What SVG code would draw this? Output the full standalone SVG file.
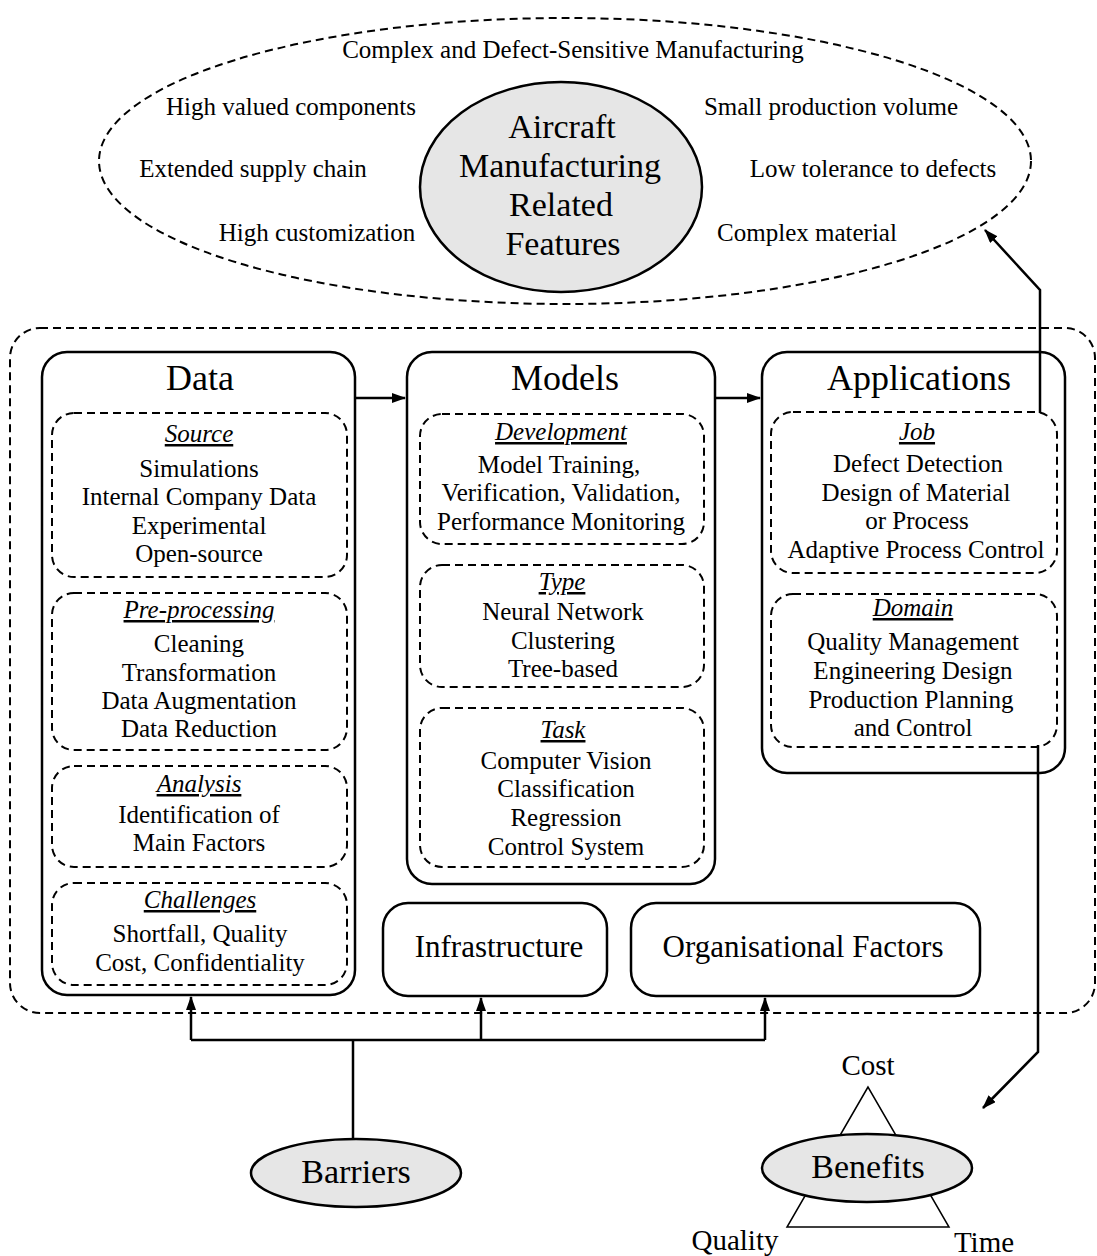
<svg xmlns="http://www.w3.org/2000/svg" width="1097" height="1256" viewBox="0 0 1097 1256">
<defs>
<style>
text{font-family:"Liberation Serif","Times New Roman",serif;fill:#000;text-anchor:middle}
.t{font-size:25px}
.h{font-size:25px;font-style:italic;text-decoration:underline}
.big{font-size:36px}
.c{font-size:34px}
.mid{font-size:31px}
.sm{font-size:29px}
.dash{fill:none;stroke:#000;stroke-width:2;stroke-dasharray:8 5}
.box{fill:#fff;stroke:#000;stroke-width:2.5}
.grey{fill:#e6e6e6;stroke:#000;stroke-width:2.5}
.ln{fill:none;stroke:#000;stroke-width:2.5}
</style>
<marker id="ah" viewBox="0 0 14 10" refX="13" refY="5" markerWidth="14" markerHeight="10" markerUnits="userSpaceOnUse" orient="auto"><path d="M0,0 L14,5 L0,10 z" fill="#000"/></marker>
</defs>
<rect width="1097" height="1256" fill="#fff"/>

<g id="features">
<ellipse class="dash" cx="565" cy="161" rx="466" ry="143"/>
<text class="t" x="573" y="58">Complex and Defect-Sensitive Manufacturing</text>
<text class="t" x="291" y="115">High valued components</text>
<text class="t" x="831" y="115">Small production volume</text>
<text class="t" x="253" y="177">Extended supply chain</text>
<text class="t" x="873" y="177">Low tolerance to defects</text>
<text class="t" x="317" y="241">High customization</text>
<text class="t" x="807" y="241">Complex material</text>
<ellipse class="grey" cx="561" cy="187" rx="141" ry="105"/>
<text class="c" x="562" y="138">Aircraft</text>
<text class="c" x="560" y="177">Manufacturing</text>
<text class="c" x="561" y="216">Related</text>
<text class="c" x="563" y="255">Features</text>
</g>

<g id="system">
<rect class="dash" x="10" y="328" width="1085" height="685" rx="30"/>
</g>

<g id="data">
<rect class="box" x="42" y="352" width="313" height="643" rx="25"/>
<text class="big" x="200" y="390">Data</text>
<rect class="dash" x="52" y="413" width="295" height="164" rx="22"/>
<text class="h" x="199" y="442">Source</text>
<text class="t" x="199" y="477">Simulations</text>
<text class="t" x="199" y="505">Internal Company Data</text>
<text class="t" x="199" y="534">Experimental</text>
<text class="t" x="199" y="562">Open-source</text>
<rect class="dash" x="52" y="593" width="295" height="157" rx="22"/>
<text class="h" x="199" y="618">Pre-processing</text>
<text class="t" x="199" y="652">Cleaning</text>
<text class="t" x="199" y="681">Transformation</text>
<text class="t" x="199" y="709">Data Augmentation</text>
<text class="t" x="199" y="737">Data Reduction</text>
<rect class="dash" x="52" y="766" width="295" height="101" rx="22"/>
<text class="h" x="199" y="792">Analysis</text>
<text class="t" x="199" y="823">Identification of</text>
<text class="t" x="199" y="851">Main Factors</text>
<rect class="dash" x="52" y="883" width="295" height="102" rx="22"/>
<text class="h" x="200" y="908">Challenges</text>
<text class="t" x="200" y="942">Shortfall, Quality</text>
<text class="t" x="200" y="971">Cost, Confidentiality</text>
</g>

<g id="models">
<rect class="box" x="407" y="352" width="308" height="532" rx="25"/>
<text class="big" x="565" y="390">Models</text>
<rect class="dash" x="420" y="414" width="284" height="130" rx="22"/>
<text class="h" x="561" y="440">Development</text>
<text class="t" x="559" y="473">Model Training,</text>
<text class="t" x="561" y="501">Verification, Validation,</text>
<text class="t" x="561" y="530">Performance Monitoring</text>
<rect class="dash" x="420" y="565" width="284" height="122" rx="22"/>
<text class="h" x="562" y="590">Type</text>
<text class="t" x="563" y="620">Neural Network</text>
<text class="t" x="563" y="649">Clustering</text>
<text class="t" x="563" y="677">Tree-based</text>
<rect class="dash" x="420" y="708" width="284" height="159" rx="22"/>
<text class="h" x="563" y="738">Task</text>
<text class="t" x="566" y="769">Computer Vision</text>
<text class="t" x="566" y="797">Classification</text>
<text class="t" x="566" y="826">Regression</text>
<text class="t" x="566" y="855">Control System</text>
</g>

<g id="applications">
<rect class="box" x="762" y="352" width="303" height="421" rx="25"/>
<text class="big" x="919" y="390">Applications</text>
<rect class="dash" x="771" y="412" width="286" height="161" rx="22"/>
<text class="h" x="917" y="440">Job</text>
<text class="t" x="918" y="472">Defect Detection</text>
<text class="t" x="916" y="501">Design of Material</text>
<text class="t" x="917" y="529">or Process</text>
<text class="t" x="916" y="558">Adaptive Process Control</text>
<rect class="dash" x="771" y="594" width="286" height="153" rx="22"/>
<text class="h" x="913" y="616">Domain</text>
<text class="t" x="913" y="650">Quality Management</text>
<text class="t" x="913" y="679">Engineering Design</text>
<text class="t" x="911" y="708">Production Planning</text>
<text class="t" x="913" y="736">and Control</text>
</g>

<g id="infrastructure">
<rect class="box" x="383" y="903" width="224" height="93" rx="25"/>
<text class="mid" x="499" y="957">Infrastructure</text>
</g>

<g id="organisational">
<rect class="box" x="631" y="903" width="349" height="93" rx="25"/>
<text class="mid" x="803" y="957">Organisational Factors</text>
</g>

<g id="barriers">
<ellipse class="grey" cx="356" cy="1173" rx="105" ry="34"/>
<text class="c" x="356" y="1183">Barriers</text>
</g>

<g id="benefits">
<path d="M868,1087 L787,1227 L949,1227 Z" fill="none" stroke="#000" stroke-width="1.5"/>
<ellipse class="grey" cx="867" cy="1168" rx="105" ry="34"/>
<text class="c" x="868" y="1178">Benefits</text>
<text class="sm" x="868" y="1075">Cost</text>
<text class="sm" x="735" y="1250">Quality</text>
<text class="sm" x="984" y="1252">Time</text>
</g>

<g id="connectors">
<path class="ln" d="M355,398 H405" marker-end="url(#ah)"/>
<path class="ln" d="M715,398 H760" marker-end="url(#ah)"/>
<path class="ln" d="M1040,413 V290 L985,230" marker-end="url(#ah)"/>
<path class="ln" d="M1038,745 V1052 L983,1108" marker-end="url(#ah)"/>
<path class="ln" d="M353,1139 V1040"/>
<path class="ln" d="M191,1040 H765"/>
<path class="ln" d="M191,1040 V997" marker-end="url(#ah)"/>
<path class="ln" d="M481,1040 V998" marker-end="url(#ah)"/>
<path class="ln" d="M765,1040 V998" marker-end="url(#ah)"/>
</g>
</svg>
